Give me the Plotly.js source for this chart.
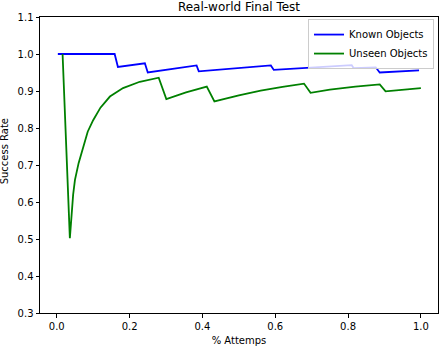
<!DOCTYPE html>
<html>
<head>
<meta charset="utf-8">
<script src="https://cdn.plot.ly/plotly-3.0.1.min.js"></script>
<style>
  html, body { margin: 0; padding: 0; background: #fff; }
  #chart { width: 440px; height: 346px; }
</style>
</head>
<body>
<div id="chart"></div>
<script>
// Known objects: cumulative success rate vs fraction of attempts
const knownX = [0.003, 0.159, 0.168, 0.242, 0.25, 0.384, 0.39, 0.588, 0.596, 0.81, 0.815, 0.876, 0.887, 0.995];
const knownY = [1.0, 1.0, 0.965, 0.975, 0.95, 0.969, 0.953, 0.969, 0.957, 0.970, 0.962, 0.964, 0.950, 0.956];

// Unseen objects
const unseenX = [0.016, 0.036, 0.045, 0.05, 0.06, 0.072, 0.085, 0.1, 0.12, 0.146, 0.182, 0.228, 0.28,
                 0.301, 0.355, 0.412, 0.433, 0.5, 0.56, 0.62, 0.679, 0.697, 0.75, 0.82, 0.887, 0.903, 0.95, 1.0];
const unseenY = [1.0, 0.502, 0.62, 0.66, 0.705, 0.745, 0.79, 0.821, 0.855, 0.885, 0.908, 0.925, 0.936,
                 0.878, 0.896, 0.912, 0.872, 0.888, 0.901, 0.911, 0.920, 0.895, 0.904, 0.912, 0.918, 0.899, 0.904, 0.908];

const xTicks = [0.0, 0.2, 0.4, 0.6, 0.8, 1.0];
const yTicks = [0.3, 0.4, 0.5, 0.6, 0.7, 0.8, 0.9, 1.0, 1.1];

const font = "DejaVu Sans";

const axis = {
  showgrid: false,
  zeroline: false,
  showline: true,
  mirror: true,
  linecolor: "black",
  linewidth: 1,
  ticks: "outside",
  ticklen: 3.5,
  tickwidth: 1,
  tickcolor: "black",
  tickfont: { family: font, size: 10, color: "black" },
  tickformat: ".1f",
};

Plotly.newPlot(
  "chart",
  [
    { x: knownX, y: knownY, mode: "lines", name: "Known Objects", line: { color: "#0000ff", width: 1.8 } },
    { x: unseenX, y: unseenY, mode: "lines", name: "Unseen Objects", line: { color: "#008000", width: 1.8 } },
  ],
  {
    width: 440,
    height: 346,
    margin: { l: 40, r: 2, t: 17, b: 33, pad: 0 },
    paper_bgcolor: "white",
    plot_bgcolor: "white",
    font: { family: font, size: 10, color: "black" },
    title: {
      text: "Real-world Final Test",
      font: { family: font, size: 12, color: "black" },
      xref: "paper",
      x: 0.5,
      yref: "container",
      y: 1 - 7 / 346,
      yanchor: "middle",
    },
    xaxis: {
      ...axis,
      range: [-0.046, 1.047],
      tickvals: xTicks,
      title: { text: "% Attemps", font: { family: font, size: 10, color: "black" }, standoff: 6 },
    },
    yaxis: {
      ...axis,
      range: [0.3, 1.1],
      tickvals: yTicks,
    },
    annotations: [
      {
        text: "Success Rate",
        xref: "paper", yref: "paper",
        x: -0.0905, y: 0.546,
        xanchor: "center", yanchor: "middle",
        textangle: -90,
        showarrow: false,
        font: { family: font, size: 10, color: "black" },
      },
    ],
    showlegend: true,
    legend: {
      x: 0.99, xanchor: "right",
      y: 0.993, yanchor: "top",
      bgcolor: "rgba(255,255,255,0.8)",
      bordercolor: "#cccccc",
      borderwidth: 1,
      font: { family: font, size: 10, color: "black" },
      tracegroupgap: 0,
    },
  },
  { staticPlot: true, displayModeBar: false }
);
</script>
</body>
</html>
